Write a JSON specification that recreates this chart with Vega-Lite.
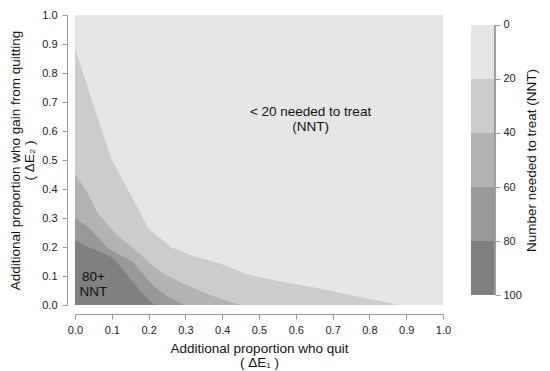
{
  "$schema": "https://vega.github.io/schema/vega-lite/v6.json",
  "width": 368,
  "height": 290,
  "autosize": {"type": "none"},
  "padding": {"left": 75, "top": 15, "right": 107, "bottom": 66},
  "config": {
    "view": {"fill": "#e6e6e6", "stroke": null},
    "font": "Liberation Sans",
    "axis": {
      "domainColor": "#9a9a9a",
      "tickColor": "#9a9a9a",
      "tickSize": 5,
      "labelFontSize": 11,
      "labelColor": "#222222",
      "titleFontSize": 13.5,
      "titleFontWeight": "normal",
      "titleColor": "#111111",
      "titleLineHeight": 14,
      "grid": false,
      "labelFlush": false,
      "labelOverlap": false
    }
  },
  "resolve": {
    "scale": {"x": "independent", "y": "independent"},
    "axis": {"x": "independent", "y": "independent"}
  },
  "layer": [
    {
      "data": {
        "values": [
          {"band": 30, "x": 0, "y": 0.886},
          {"band": 30, "x": 0.05, "y": 0.69},
          {"band": 30, "x": 0.1, "y": 0.5},
          {"band": 30, "x": 0.15, "y": 0.383},
          {"band": 30, "x": 0.2, "y": 0.263},
          {"band": 30, "x": 0.26, "y": 0.2},
          {"band": 30, "x": 0.32, "y": 0.169},
          {"band": 30, "x": 0.39, "y": 0.145},
          {"band": 30, "x": 0.47, "y": 0.105},
          {"band": 30, "x": 0.56, "y": 0.08},
          {"band": 30, "x": 0.64, "y": 0.063},
          {"band": 30, "x": 0.7, "y": 0.047},
          {"band": 30, "x": 0.79, "y": 0.023},
          {"band": 30, "x": 0.885, "y": 0},
          {"band": 50, "x": 0, "y": 0.452},
          {"band": 50, "x": 0.035, "y": 0.385},
          {"band": 50, "x": 0.06, "y": 0.32},
          {"band": 50, "x": 0.09, "y": 0.275},
          {"band": 50, "x": 0.115, "y": 0.24},
          {"band": 50, "x": 0.15, "y": 0.205},
          {"band": 50, "x": 0.18, "y": 0.172},
          {"band": 50, "x": 0.21, "y": 0.135},
          {"band": 50, "x": 0.25, "y": 0.102},
          {"band": 50, "x": 0.295, "y": 0.074},
          {"band": 50, "x": 0.34, "y": 0.048},
          {"band": 50, "x": 0.39, "y": 0.024},
          {"band": 50, "x": 0.448, "y": 0},
          {"band": 70, "x": 0, "y": 0.299},
          {"band": 70, "x": 0.035, "y": 0.27},
          {"band": 70, "x": 0.065, "y": 0.23},
          {"band": 70, "x": 0.09, "y": 0.196},
          {"band": 70, "x": 0.115, "y": 0.178},
          {"band": 70, "x": 0.155, "y": 0.15},
          {"band": 70, "x": 0.18, "y": 0.115},
          {"band": 70, "x": 0.21, "y": 0.07},
          {"band": 70, "x": 0.25, "y": 0.03},
          {"band": 70, "x": 0.295, "y": 0},
          {"band": 90, "x": 0, "y": 0.224},
          {"band": 90, "x": 0.035, "y": 0.2},
          {"band": 90, "x": 0.07, "y": 0.184},
          {"band": 90, "x": 0.1, "y": 0.165},
          {"band": 90, "x": 0.125, "y": 0.132},
          {"band": 90, "x": 0.15, "y": 0.09},
          {"band": 90, "x": 0.178, "y": 0.047},
          {"band": 90, "x": 0.2, "y": 0.018},
          {"band": 90, "x": 0.217, "y": 0}
        ]
      },
      "encoding": {
        "x": {
          "field": "x",
          "type": "quantitative",
          "scale": {"domain": [0, 1], "nice": false, "zero": false},
          "axis": {
            "values": [0, 0.1, 0.2, 0.3, 0.4, 0.5, 0.6, 0.7, 0.8, 0.9, 1],
            "format": ".1f",
            "offset": 9,
            "labelPadding": 5,
            "titlePadding": 6,
            "title": ["Additional proportion who quit", "( ΔE₁ )"]
          }
        },
        "y": {
          "field": "y",
          "type": "quantitative",
          "stack": null,
          "scale": {"domain": [0, 1], "nice": false, "zero": false},
          "axis": {
            "values": [0, 0.1, 0.2, 0.3, 0.4, 0.5, 0.6, 0.7, 0.8, 0.9, 1],
            "format": ".1f",
            "offset": 8,
            "labelPadding": 5,
            "titlePadding": 5,
            "title": ["Additional proportion who gain from quitting", "( ΔE₂ )"]
          }
        },
        "color": {
          "field": "band",
          "type": "quantitative",
          "scale": {"type": "quantize", "domain": [0, 100], "range": ["#e6e6e6", "#cccccc", "#b3b3b3", "#999999", "#808080"]},
          "legend": null
        }
      },
      "layer": [
        {"transform": [{"filter": "datum.band == 30"}], "mark": {"type": "area", "interpolate": "linear"}},
        {"transform": [{"filter": "datum.band == 50"}], "mark": {"type": "area", "interpolate": "linear"}},
        {"transform": [{"filter": "datum.band == 70"}], "mark": {"type": "area", "interpolate": "linear"}},
        {"transform": [{"filter": "datum.band == 90"}], "mark": {"type": "area", "interpolate": "linear"}},
        {
          "data": {
            "values": [
              {"x": 0.64, "y": 0.664, "label": "< 20 needed to treat\n(NNT)"},
              {"x": 0.05, "y": 0.096, "label": "80+\nNNT"}
            ]
          },
          "mark": {"type": "text", "lineBreak": "\n", "fontSize": 13.5, "lineHeight": 14.5, "baseline": "middle", "align": "center"},
          "encoding": {
            "text": {"field": "label", "type": "nominal"},
            "color": {"value": "#111111"}
          }
        }
      ]
    },
    {
      "data": {
        "values": [
          {"lo": 0, "hi": 20},
          {"lo": 20, "hi": 40},
          {"lo": 40, "hi": 60},
          {"lo": 60, "hi": 80},
          {"lo": 80, "hi": 100}
        ]
      },
      "encoding": {
        "x": {"datum": 1.076, "type": "quantitative", "scale": {"domain": [0, 1], "nice": false, "zero": false}, "axis": null},
        "y": {
          "field": "lo",
          "type": "quantitative",
          "scale": {"domain": [-3.7, 103.7], "reverse": true, "nice": false, "zero": false},
          "axis": {
            "orient": "right",
            "offset": 52,
            "domain": false,
            "values": [0, 20, 40, 60, 80, 100],
            "format": "d",
            "labelPadding": 3,
            "title": "Number needed to treat (NNT)",
            "titleAngle": 270,
            "titleBaseline": "top",
            "titlePadding": 3
          }
        }
      },
      "layer": [
        {
          "mark": {"type": "rect"},
          "encoding": {
            "x2": {"datum": 1.141},
            "y2": {"field": "hi"},
            "color": {
              "field": "lo",
              "type": "quantitative",
              "scale": {"type": "quantize", "domain": [0, 100], "range": ["#e6e6e6", "#cccccc", "#b3b3b3", "#999999", "#808080"]},
              "legend": null
            }
          }
        },
        {
          "mark": {"type": "rule", "color": "#9a9a9a", "strokeWidth": 1},
          "encoding": {
            "x": {"datum": 1.141, "type": "quantitative"},
            "y": {"datum": 0, "type": "quantitative"},
            "y2": {"datum": 100}
          }
        }
      ]
    }
  ]
}
